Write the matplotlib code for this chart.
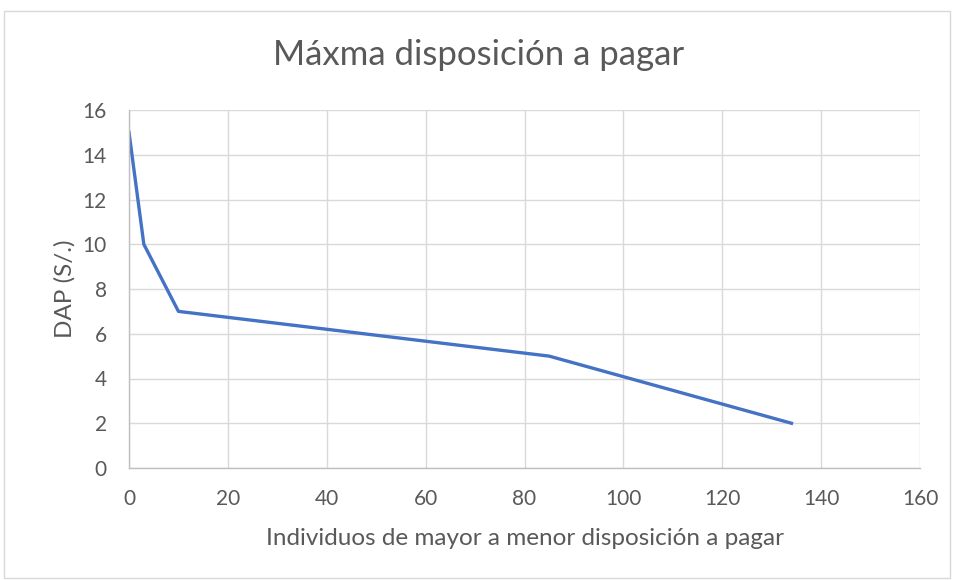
import matplotlib
matplotlib.use('Agg')
import matplotlib.pyplot as plt
from matplotlib.patches import Rectangle

# data
individuos = [0, 3, 10, 85, 134]
dap = [15, 10, 7, 5, 2]
x_ticks = [0, 20, 40, 60, 80, 100, 120, 140, 160]
y_ticks = [0, 2, 4, 6, 8, 10, 12, 14, 16]

plt.rcParams['font.family'] = ['Lato', 'DejaVu Sans']
text_col = '#595959'
grid_col = '#D9D9D9'

fig = plt.figure(figsize=(9.57, 5.80), dpi=100)
ax = fig.add_axes([129/957, 1 - 468/580, (920-129)/957, (468-110)/580])

# chart area border
fig.patches.append(Rectangle((4/957, 2/580), 946/957, 567/580, transform=fig.transFigure,
                             fill=False, edgecolor='#D9D9D9', linewidth=1))

ax.plot(individuos, dap, color='#4472C4', linewidth=2.4, solid_joinstyle='round')

ax.set_xlim(0, 160)
ax.set_ylim(0, 16)
ax.set_xticks(x_ticks)
ax.set_yticks(y_ticks)
ax.grid(True, color=grid_col, linewidth=1)
ax.set_axisbelow(True)
for s in ['top', 'right']:
    ax.spines[s].set_visible(False)
for s in ['left', 'bottom']:
    ax.spines[s].set_color('#BFBFBF')
    ax.spines[s].set_linewidth(1)
ax.tick_params(length=0, labelsize=15, labelcolor=text_col)
ax.tick_params(axis='x', pad=15)
ax.tick_params(axis='y', pad=16)

ax.set_xlabel('Individuos de mayor a menor disposición a pagar', fontsize=17.5, color=text_col, labelpad=14)
ax.set_ylabel('DAP (S/.)', fontsize=17.5, color=text_col, labelpad=5)
fig.text(0.5, 1 - 55/580, 'Máxma disposición a pagar', ha='center', va='center',
         fontsize=25, color=text_col)

fig.savefig('out.png', dpi=100)
